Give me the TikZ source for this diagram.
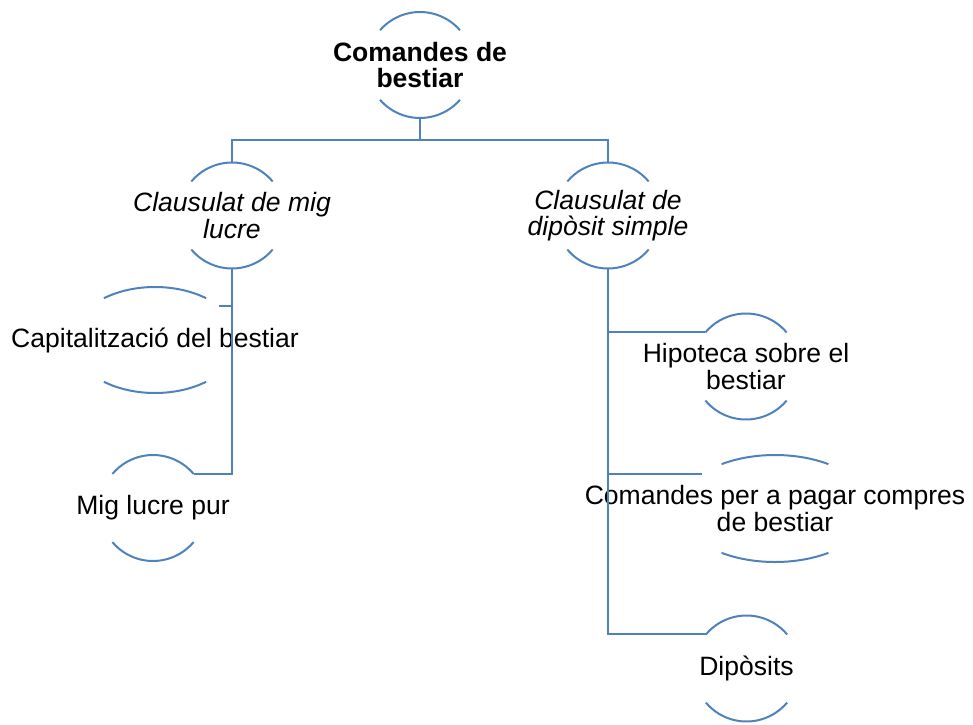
\documentclass[tikz,border=0pt]{standalone}
\usepackage{fontspec}
\setmainfont{Liberation Sans}
\usepackage{tikz}
\usetikzlibrary{calc}
\usepackage{xcolor}
\definecolor{linkblue}{RGB}{79,129,189}
\newcommand{\nodefont}{\fontsize{19.9}{19.9}\selectfont}
% top and bottom arcs of a node's ellipse: node, x radius, y radius, angle
\newcommand{\capsarcs}[4]{%
  \draw[arcline] ($(#1.center)+(#4:#2 and #3)$)
    arc[start angle=#4, end angle={180-#4}, x radius=#2, y radius=#3];
  \draw[arcline] ($(#1.center)+({180+#4}:#2 and #3)$)
    arc[start angle={180+#4}, end angle={360-#4}, x radius=#2, y radius=#3];}

\begin{document}
\begin{tikzpicture}[x=0.75pt,y=0.75pt,
  box/.style={rectangle,inner sep=0pt,align=center,minimum width=80pt,minimum height=79.5pt,font=\nodefont},
  head/.style={box,font=\nodefont\bfseries},
  clause/.style={box,font=\nodefont\itshape},
  arcline/.style={draw=linkblue,line width=1.5pt},
  link/.style={draw=linkblue,line width=1.5pt}]
  \useasboundingbox (0,0) rectangle (973,-724);

  \node[head] (top) at (420,-65) {Comandes de\\bestiar};
  \node[clause] (mig) at (232,-215.5) {Clausulat de mig\\lucre};
  \node[clause] (dip) at (608,-215.5) {Clausulat de\\dipòsit simple};

  \node[box] (cap) at (155,-340) {Capitalització del bestiar};
  \node[box] (pur) at (153,-508) {Mig lucre pur};

  \node[box] (hip) at (746,-366.5) {Hipoteca sobre el\\bestiar};
  \node[box,minimum height=80.25pt] (pag) at (775,-508.5) {Comandes per a pagar compres\\de bestiar};
  \node[box] (dep) at (746.5,-668.5) {Dipòsits};

  \capsarcs{top}{53}{53}{41}
  \capsarcs{mig}{53}{53}{40}
  \capsarcs{dip}{53}{53}{40}
  \capsarcs{cap}{83}{53}{52}
  \capsarcs{pur}{53}{53}{40}
  \capsarcs{hip}{53}{53}{40}
  \capsarcs{pag}{95.5}{53.5}{56}
  \capsarcs{dep}{53}{53}{40}

  \coordinate (capin) at ($(cap.center)+(40:83 and 53)$);
  \coordinate (purin) at ($(pur.center)+(40:53 and 53)$);
  \coordinate (hipin) at ($(hip.center)+(140:53 and 53)$);
  \coordinate (pagin) at ($(pag.center)+(140:95.5 and 53.5)$);
  \coordinate (depin) at ($(dep.center)+(140:53 and 53)$);

  \draw[link] (top.south) -- ++(0,-22) coordinate (bus) -| (mig.north);
  \draw[link] (bus) -| (dip.north);

  \draw[link] (mig.south) |- (purin);
  \draw[link] (mig.south |- capin) -- (capin);

  \draw[link] (dip.south) |- (depin);
  \draw[link] (dip.south |- hipin) -- (hipin);
  \draw[link] (dip.south |- pagin) -- (pagin);
\end{tikzpicture}
\end{document}
